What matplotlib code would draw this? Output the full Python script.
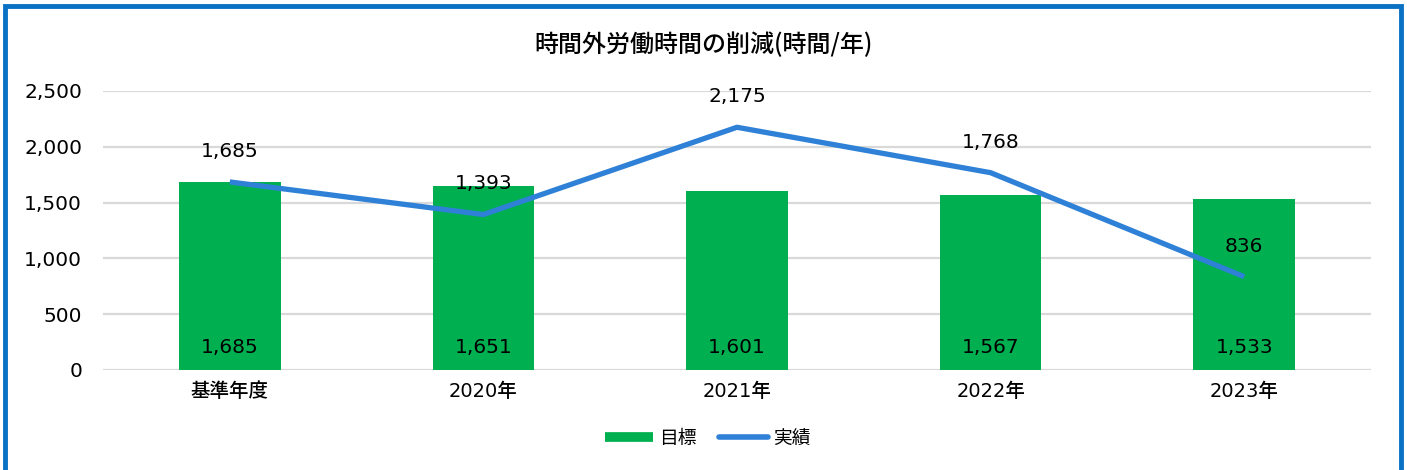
import matplotlib
matplotlib.use("Agg")
import matplotlib.pyplot as plt
from matplotlib.patches import Rectangle
from matplotlib.lines import Line2D

plt.rcParams['font.family'] = ['DejaVu Sans', 'Noto Sans CJK JP']

categories = ['基準年度', '2020年', '2021年', '2022年', '2023年']
target = [1685, 1651, 1601, 1567, 1533]
actual = [1685, 1393, 2175, 1768, 836]
yticks = [0, 500, 1000, 1500, 2000, 2500]

title = '時間外労働時間の削減(時間/年)'
bar_color = '#00B050'
line_color = '#2E81D6'
frame_color = '#0A72C4'

fig = plt.figure(figsize=(14.07, 4.70), dpi=100)
ax = fig.add_axes([0.0732, 0.2128, 0.9012, 0.5936])

x = list(range(len(categories)))
ax.bar(x, target, width=0.4, color=bar_color, zorder=2)
ax.plot(x, actual, color=line_color, linewidth=3.8, solid_capstyle='butt', zorder=3)

for xi, v in zip(x, target):
    ax.annotate(f'{v:,}', (xi, 0), xytext=(0, 9), textcoords='offset points',
                ha='center', va='bottom', fontsize=14.5, color='black', zorder=4)
for xi, v in zip(x, actual):
    ax.annotate(f'{v:,}', (xi, v), xytext=(0, 22), textcoords='offset points',
                ha='center', va='center', fontsize=14.5, color='black', zorder=4)

ax.set_xlim(-0.5, len(categories) - 0.5)
ax.set_ylim(0, 2500)
ax.set_yticks(yticks)
ax.set_yticklabels([f'{t:,}' for t in yticks], fontsize=14.5)
ax.set_xticks(x)
ax.set_xticklabels(categories, fontsize=14, fontweight='medium')
ax.tick_params(axis='both', length=0, colors='black')
ax.tick_params(axis='y', pad=15)
ax.tick_params(axis='x', pad=9)
ax.grid(axis='y', color='#D9D9D9', linewidth=1.6, zorder=0)
ax.set_axisbelow(True)
for s in ax.spines.values():
    s.set_visible(False)

fig.text(0.5, 0.905, title, ha='center', va='center', fontsize=17.3,
         fontfamily='Noto Sans CJK JP', fontweight='medium', color='black')

handles = [Line2D([0], [0], color=bar_color, linewidth=7, solid_capstyle='butt'),
           Line2D([0], [0], color=line_color, linewidth=4, solid_capstyle='round')]
fig.legend(handles, ['目標', '実績'], loc='center', bbox_to_anchor=(0.503, 0.068),
           ncol=2, frameon=False, handlelength=2.6, handletextpad=0.3,
           columnspacing=1.2, prop={'family': 'Noto Sans CJK JP', 'size': 13.5})

fig.patches.append(Rectangle((4.5 / 1407, -0.2), 1 - 11 / 1407, 1.2 - 6 / 470,
                             transform=fig.transFigure, fill=False,
                             edgecolor=frame_color, linewidth=3.5, zorder=10))

fig.savefig('out.png', dpi=100, facecolor='white')
